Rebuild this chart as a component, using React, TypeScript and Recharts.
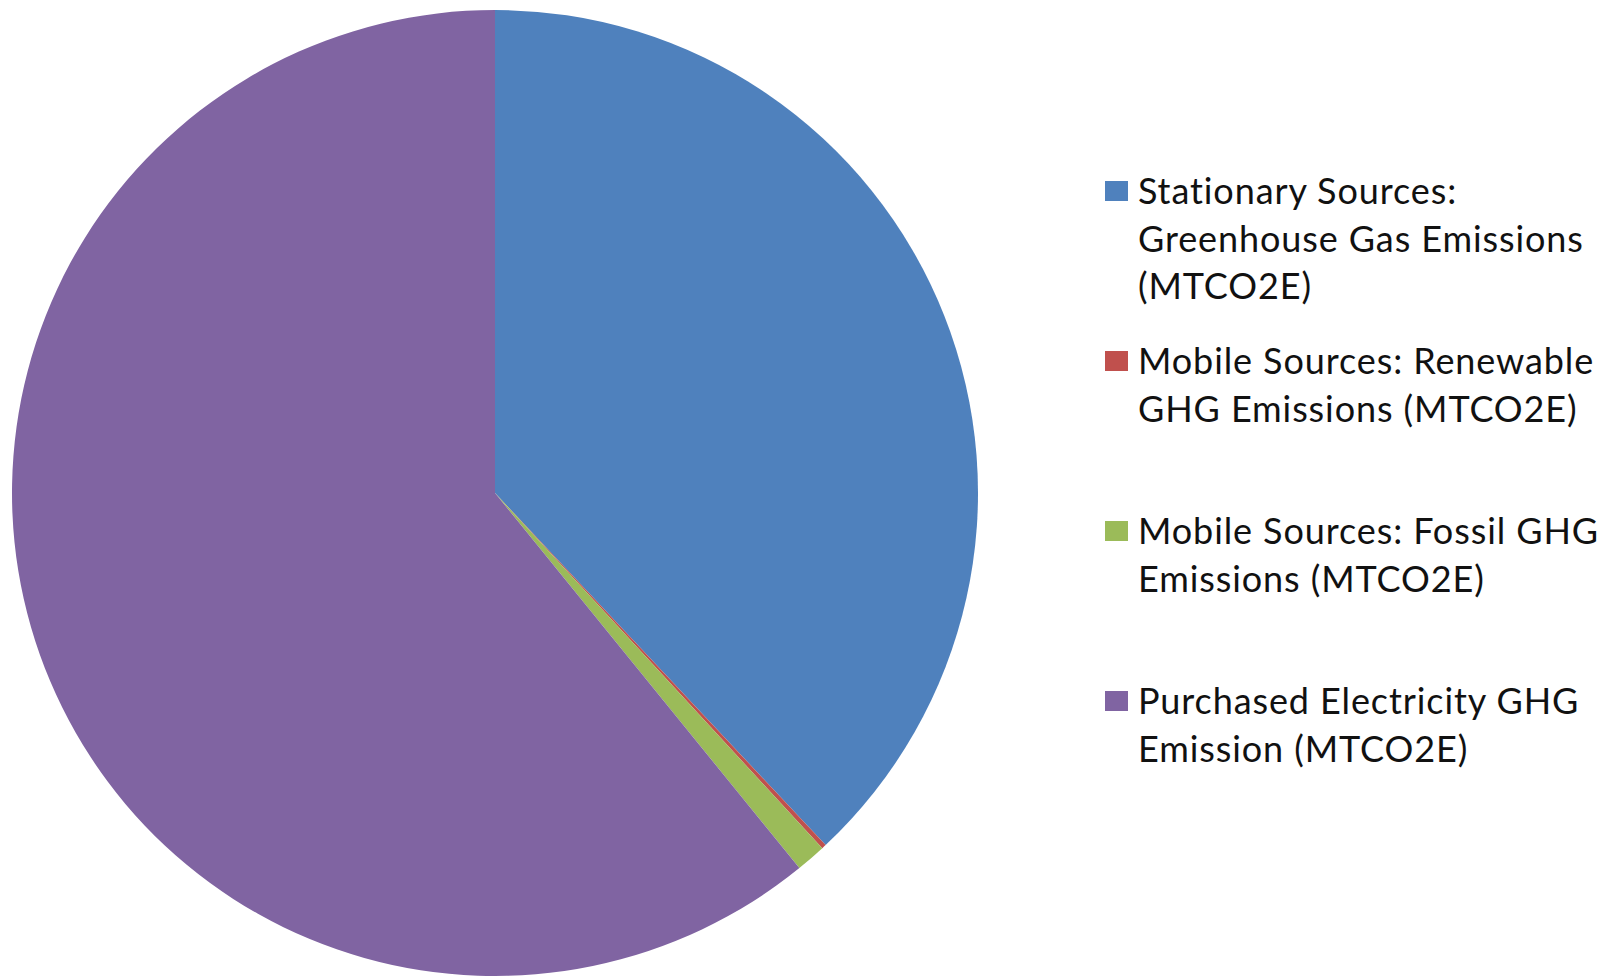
import React from 'react';
import { PieChart, Pie, Cell, Legend } from 'recharts';

const sources = [
  'Stationary Sources: Greenhouse Gas Emissions (MTCO2E)',
  'Mobile Sources: Renewable GHG Emissions (MTCO2E)',
  'Mobile Sources: Fossil GHG Emissions (MTCO2E)',
  'Purchased Electricity GHG Emission (MTCO2E)',
];
const emissions = [38.0, 0.15, 1.0, 60.85];
const legendLines = [
  ['Stationary Sources:', 'Greenhouse Gas Emissions', '(MTCO2E)'],
  ['Mobile Sources: Renewable', 'GHG Emissions (MTCO2E)'],
  ['Mobile Sources: Fossil GHG', 'Emissions (MTCO2E)'],
  ['Purchased Electricity GHG', 'Emission (MTCO2E)'],
];
const colors = ['#4F81BD', '#C0504D', '#9BBB59', '#8064A2'];

const data = sources.map((name, i) => ({ name, value: emissions[i] }));

const LINE_H = 47.5;

const LegendBox = () => (
  <div style={{ fontFamily: 'Lato, sans-serif', fontSize: 36, color: '#111', letterSpacing: 0.9 }}>
    {legendLines.map((lines, i) => (
      <div key={i} style={{ position: 'relative', height: 170 }}>
        <div
          style={{
            position: 'absolute',
            left: 0,
            top: LINE_H / 2 - 10,
            width: 23,
            height: 20,
            background: colors[i],
          }}
        />
        <div style={{ position: 'absolute', left: 33, top: 0, lineHeight: `${LINE_H}px`, whiteSpace: 'nowrap' }}>
          {lines.map((l, j) => (
            <div key={j}>{l}</div>
          ))}
        </div>
      </div>
    ))}
  </div>
);

export default function App() {
  return (
    <div style={{ position: 'absolute', left: 0, top: 0, background: '#fff' }}>
      <style>{`body{margin:0}`}</style>
      <PieChart width={1618} height={976} margin={{ top: 0, right: 0, bottom: 0, left: 0 }}>
        <Pie
          data={data}
          dataKey="value"
          nameKey="name"
          cx={495}
          cy={493}
          outerRadius={483}
          startAngle={90}
          endAngle={-270}
          stroke="none"
          isAnimationActive={false}
        >
          {data.map((d, i) => (
            <Cell key={d.name} fill={colors[i]} />
          ))}
        </Pie>
        <Legend
          content={() => <LegendBox />}
          wrapperStyle={{ position: 'absolute', left: 1105, top: 167, width: 510 }}
        />
      </PieChart>
    </div>
  );
}
